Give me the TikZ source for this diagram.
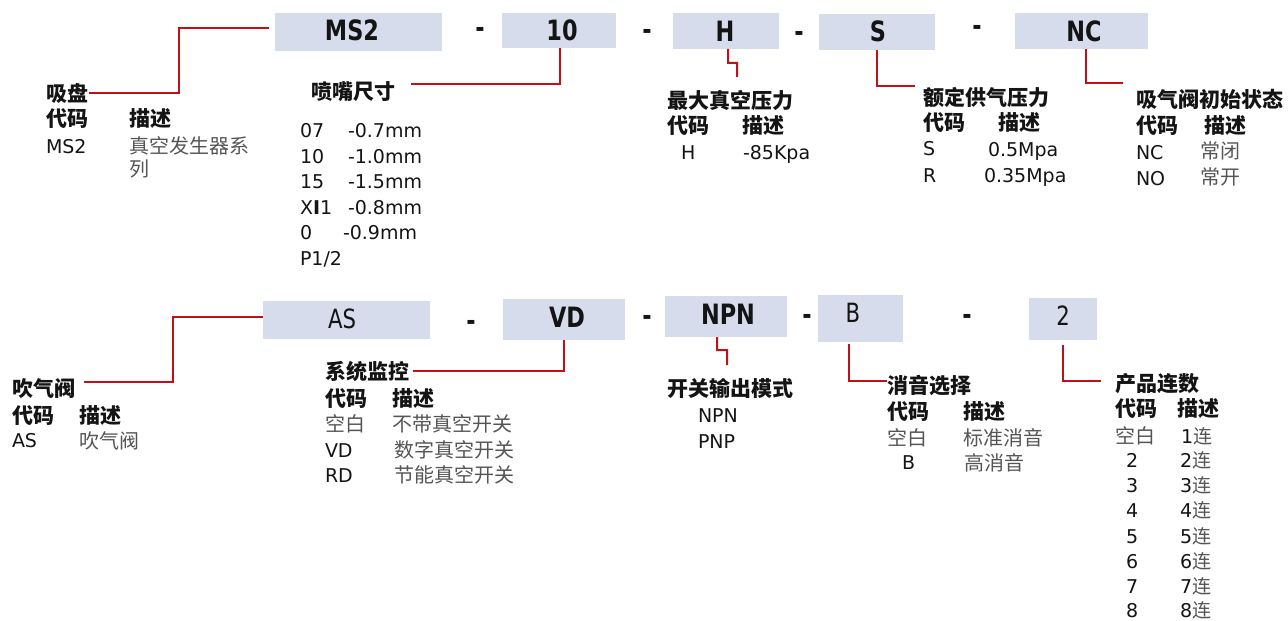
\documentclass[tikz,border=0pt]{standalone}
\usepackage{fontspec}
\setmainfont{DejaVu Sans}
\newfontfamily\cjk{Noto Sans CJK SC}
\newfontfamily\boxf{DejaVu Sans}[FakeStretch=0.8]
\definecolor{boxfill}{RGB}{214,220,235}
\definecolor{linered}{RGB}{192,16,24}
\definecolor{cjkgray}{RGB}{85,85,85}
\definecolor{ink}{RGB}{20,20,20}
\newcommand\cg[1]{{\cjk\color{cjkgray}#1}}
\begin{document}
\begin{tikzpicture}[x=1bp,y=-1bp,
  lat/.style={anchor=base west, inner sep=0pt, outer sep=0pt, text=ink, font=\fontsize{19bp}{19bp}\selectfont},
  hd/.style={anchor=base west, inner sep=0pt, outer sep=0pt, text=ink, font=\fontsize{21bp}{21bp}\selectfont\cjk\bfseries},
  dsc/.style={anchor=base west, inner sep=0pt, outer sep=0pt, text=cjkgray, font=\fontsize{20bp}{20bp}\selectfont\cjk},
  codebox/.style={fill=boxfill, draw=none, inner sep=0pt, outer sep=0pt},
  blab/.style={anchor=base, inner sep=0pt, outer sep=0pt, text=ink, font=\fontsize{28bp}{28bp}\selectfont\boxf\bfseries},
  blabr/.style={anchor=base, inner sep=0pt, outer sep=0pt, text=ink, font=\fontsize{26.5bp}{26.5bp}\selectfont\boxf},
  conn/.style={draw=linered, line width=2bp},
]
\useasboundingbox (0,0) rectangle (1288,621);

% ---------- code boxes, top row
\node[codebox, minimum width=167bp, minimum height=38bp] (bMS) at (358.5,32) {};
\node[codebox, minimum width=114bp, minimum height=35bp] (bTen) at (559,30.5) {};
\node[codebox, minimum width=106bp, minimum height=36bp] (bH) at (726,31) {};
\node[codebox, minimum width=116bp, minimum height=36bp] (bS) at (877,32) {};
\node[codebox, minimum width=133bp, minimum height=36bp] (bNC) at (1081.5,31) {};
% ---------- code boxes, bottom row
\node[codebox, minimum width=167bp, minimum height=38bp] (bAS) at (346.5,320) {};
\node[codebox, minimum width=122bp, minimum height=41bp] (bVD) at (564,319.5) {};
\node[codebox, minimum width=122bp, minimum height=41bp] (bNPN) at (726,316.5) {};
\node[codebox, minimum width=85bp, minimum height=47bp] (bB) at (860.5,318.5) {};
\node[codebox, minimum width=68bp, minimum height=42bp] (bTwo) at (1063,319) {};

% ---------- box labels
\node[blab] (lMS) at (352,41) {MS2};
\node[blab] (lTen) at (562,41) {10};
\node[blab] (lH) at (725,42) {H};
\node[blab] (lS) at (878,42) {S};
\node[blab] (lNC) at (1084,42) {NC};
\node[blabr] (lAS) at (342,329) {AS};
\node[blab] (lVD) at (567,328) {VD};
\node[blab] (lNPN) at (728,325) {NPN};
\node[blabr] (lB) at (853,323) {B};
\node[blabr] (lTwo) at (1063,326) {2};

% ---------- dashes
\node[blab] (d1) at (480,38) {-};
\node[blab] (d2) at (647,40) {-};
\node[blab] (d3) at (799,42) {-};
\node[blab] (d4) at (977,36) {-};
\node[blab] (d5) at (471,331) {-};
\node[blab] (d6) at (647,326) {-};
\node[blab] (d7) at (807,325) {-};
\node[blab] (d8) at (967,325) {-};

% ---------- group 1: 吸盘
\node[hd] (g1h) at (46,102) {吸盘};
\node[hd] (g1c) at (46,127) {代码};
\node[hd] (g1d) at (129,127) {描述};
\node[lat] (g1a) at (46,154) {MS2};
\node[dsc] (g1b) at (129,154) {真空发生器系};
\node[dsc] (g1e) at (129,177) {列};

% ---------- group 2: 喷嘴尺寸
\node[hd] (g2h) at (311,99.5) {喷嘴尺寸};
\node[lat] (g2c1) at (300,138) {07};
\node[lat] (g2v1) at (348,138) {-0.7mm};
\node[lat] (g2c2) at (300,163.5) {10};
\node[lat] (g2v2) at (348,163.5) {-1.0mm};
\node[lat] (g2c3) at (300,189) {15};
\node[lat] (g2v3) at (348,189) {-1.5mm};
\node[lat] (g2c4) at (300,214.5) {X{\bfseries I}1};
\node[lat] (g2v4) at (348,214.5) {-0.8mm};
\node[lat] (g2c5) at (300,240) {0};
\node[lat] (g2v5) at (343,240) {-0.9mm};
\node[lat] (g2c6) at (300,265.5) {P1/2};

% ---------- group 3: 最大真空压力
\node[hd] (g3h) at (667,108.5) {最大真空压力};
\node[hd] (g3c) at (667,134) {代码};
\node[hd] (g3d) at (742,134) {描述};
\node[lat] (g3a) at (681,160) {H};
\node[lat] (g3b) at (743,160) {-85Kpa};

% ---------- group 4: 额定供气压力
\node[hd] (g4h) at (923,106) {额定供气压力};
\node[hd] (g4c) at (923,131) {代码};
\node[hd] (g4d) at (998,131) {描述};
\node[lat] (g4a1) at (923,156) {S};
\node[lat] (g4b1) at (988,157) {0.5Mpa};
\node[lat] (g4a2) at (923,183) {R};
\node[lat] (g4b2) at (984,183) {0.35Mpa};

% ---------- group 5: 吸气阀初始状态
\node[hd] (g5h) at (1136,108) {吸气阀初始状态};
\node[hd] (g5c) at (1136,134) {代码};
\node[hd] (g5d) at (1204,134) {描述};
\node[lat] (g5a1) at (1136,160) {NC};
\node[dsc] (g5b1) at (1200,159) {常闭};
\node[lat] (g5a2) at (1136,186) {NO};
\node[dsc] (g5b2) at (1200,185) {常开};

% ---------- group 6: 吹气阀
\node[hd] (g6h) at (12,396) {吹气阀};
\node[hd] (g6c) at (12,423) {代码};
\node[hd] (g6d) at (79,423) {描述};
\node[lat] (g6a) at (12,447) {AS};
\node[dsc] (g6b) at (79,448) {吹气阀};

% ---------- group 7: 系统监控
\node[hd] (g7h) at (325,380) {系统监控};
\node[hd] (g7c) at (325,406) {代码};
\node[hd] (g7d) at (392,406) {描述};
\node[dsc] (g7a1) at (325,431) {空白};
\node[dsc] (g7b1) at (392,431) {不带真空开关};
\node[lat] (g7a2) at (325,457) {VD};
\node[dsc] (g7b2) at (394,457) {数字真空开关};
\node[lat] (g7a3) at (325,482) {RD};
\node[dsc] (g7b3) at (394,482) {节能真空开关};

% ---------- group 8: 开关输出模式
\node[hd] (g8h) at (667,396) {开关输出模式};
\node[lat] (g8a1) at (698,422) {NPN};
\node[lat] (g8a2) at (698,448) {PNP};

% ---------- group 9: 消音选择
\node[hd] (g9h) at (887,393) {消音选择};
\node[hd] (g9c) at (887,419) {代码};
\node[hd] (g9d) at (963,419) {描述};
\node[dsc] (g9a1) at (887,445) {空白};
\node[dsc] (g9b1) at (963,445) {标准消音};
\node[lat] (g9a2) at (902,469) {B};
\node[dsc] (g9b2) at (964,470) {高消音};

% ---------- group 10: 产品连数
\node[hd] (g10h) at (1115,391) {产品连数};
\node[hd] (g10c) at (1115,416) {代码};
\node[hd] (g10d) at (1177,416) {描述};
\node[dsc] (g10a1) at (1115,443) {空白};
\node[lat] (g10b1) at (1181,443) {1\cg{连}};
\foreach \n/\yy in {2/467,3/492.5,4/517.5,5/543,6/568,7/593,8/617.5}{
  \node[lat] (g10a\n) at (1126,\yy) {\n};
  \node[lat] (g10b\n) at (1180,\yy) {\n\cg{连}};
}

% ---------- connectors
\coordinate (k1s) at (269,28);
\coordinate (k1e) at (89,93);
\draw[conn] (k1s) -- (179,28) -- (179,93) -- (k1e);

\coordinate (k2e) at (411,84);
\draw[conn] ([xshift=1bp]bTen.south) |- (k2e);

\coordinate (k3e) at (737,77);
\draw[conn] ([xshift=2bp]bH.south) -- (728,63) -- (737,63) -- (k3e);

\coordinate (k4e) at (915,86);
\draw[conn] (bS.south) |- (k4e);

\coordinate (k5e) at (1123,83);
\draw[conn] ([xshift=4.5bp]bNC.south) |- (k5e);

\coordinate (k6s) at (263,317);
\coordinate (k6e) at (84,382);
\draw[conn] (k6s) -- (173,317) -- (173,382) -- (k6e);

\coordinate (k7e) at (413,371);
\draw[conn] (bVD.south) |- (k7e);

\coordinate (k8e) at (727,365);
\draw[conn] ([xshift=-9bp]bNPN.south) -- (717,350) -- (727,350) -- (k8e);

\coordinate (k9s) at (849,344);
\coordinate (k9e) at (887,381);
\draw[conn] (k9s) |- (k9e);

\coordinate (k10s) at (1063,345);
\coordinate (k10e) at (1101,381);
\draw[conn] (k10s) |- (k10e);
\end{tikzpicture}
\end{document}
